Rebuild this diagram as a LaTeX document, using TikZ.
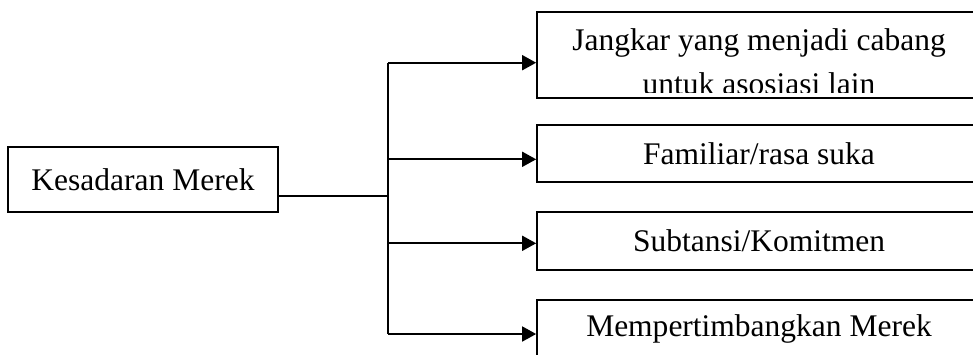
\documentclass[tikz,border=0pt]{standalone}
\usepackage{fontspec}
\setmainfont{Liberation Serif}
\usetikzlibrary{arrows.meta}
\begin{document}
\begin{tikzpicture}[x=1pt,y=1pt,
  box/.style={draw=black, line width=1.7pt, rectangle, inner sep=0pt, align=center,
    font=\fontsize{31.5}{37}\selectfont},
  rbox/.style={box, minimum width=444pt},
  conn/.style={line width=1.7pt, draw=black},
  arr/.style={conn, -{Triangle[length=14pt,width=15pt]}},
  txt/.style={inner sep=0pt, font=\fontsize{31.5}{37}\selectfont}]
\useasboundingbox (0,0) rectangle (973,-354);
\clip (0,0) rectangle (973,-354);
% left box
\node[box, minimum width=270pt, minimum height=65pt] (k) at (143,-179.5) {Kesadaran Merek};
% right boxes
\node[rbox, minimum height=86pt] (b1) at (759,-55.3) {};
\node[rbox, minimum height=57.3pt] (b2) at (759,-153.65) {Familiar/rasa suka};
\node[rbox, minimum height=58pt] (b3) at (759,-240.7) {Subtansi/Komitmen};
\node[rbox, minimum height=58pt] (b4) at (759,-328.7) {Mempertimbangkan Merek};
\begin{scope}
  \clip (537,-12.3) rectangle (981,-92.5);
  \node[txt, anchor=base] (b1a) at (759,-50) {Jangkar yang menjadi cabang};
  \node[txt, anchor=base] (b1b) at (759,-94.5) {untuk asosiasi lain};
\end{scope}
% trunk
\coordinate (j) at (388.3,-196.3);
\coordinate (t1) at (388.3,-62.7);
\coordinate (t2) at (388.3,-159.3);
\coordinate (t3) at (388.3,-243.3);
\coordinate (t4) at (388.3,-334);
\draw[conn] (k.east |- j) -- (j);
\draw[conn] (t1) -- (t4);
\draw[arr] (t1) -- (b1.west |- t1);
\draw[arr] (t2) -- (b2.west |- t2);
\draw[arr] (t3) -- (b3.west |- t3);
\draw[arr] (t4) -- (b4.west |- t4);
\end{tikzpicture}
\end{document}
